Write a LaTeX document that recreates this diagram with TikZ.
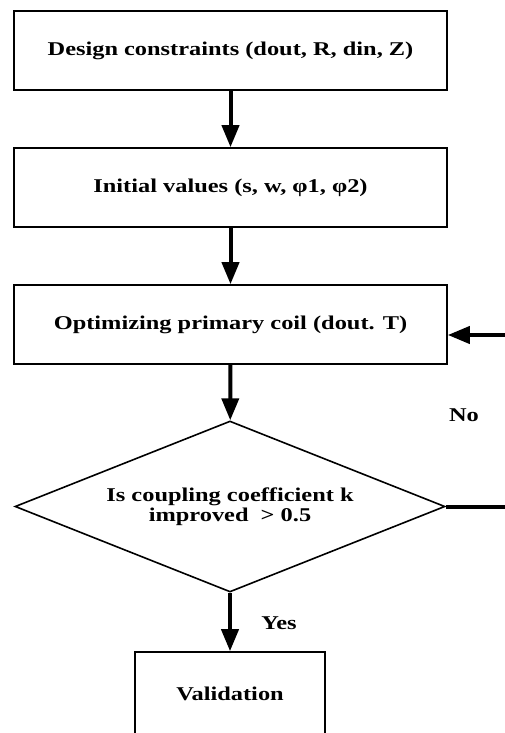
\documentclass[tikz,border=0pt]{standalone}
\usepackage{fontspec}
\setmainfont{Liberation Serif}[FakeStretch=1.25]
\usetikzlibrary{shapes.geometric, arrows.meta}
\tikzstyle{process} = [rectangle, minimum width=433pt, minimum height=79pt, text centered, draw=black, line width=1.6pt, font=\bfseries\fontsize{19.5}{20}\selectfont]
\tikzstyle{decision} = [diamond, aspect=2.5, minimum width=430pt, minimum height=171pt, inner sep=0pt, align=center, draw=black, line width=1.6pt, font=\bfseries\fontsize{19.5}{20}\selectfont]
\tikzstyle{label} = [font=\bfseries\fontsize{19.5}{20}\selectfont]
\tikzstyle{arrow} = [line width=4pt,-{Triangle[length=22pt,width=17pt]}]
\tikzstyle{line} = [line width=4pt]

\begin{document}
\begin{tikzpicture}[node distance=137pt]
						\useasboundingbox (0pt,0pt) rectangle (505pt,-733pt);
						\node (dc) [process] at (230.5pt,-50.5pt) {Design constraints (dout, R, din, Z)};
						\node (iv) [process, below of=dc] {Initial values (s, w, φ1, φ2)};
						\node (opt) [process, below of=iv] {Optimizing primary coil (dout. T)};
						\node (kc) [decision, node distance=182pt, below of=opt, xshift=-0.5pt] {Is coupling coefficient k\\improved~~> 0.5};
						\node (val) [process, minimum width=190pt, minimum height=84pt, node distance=187.5pt, below of=kc] {Validation};
						\coordinate (noout) at (505pt,-506.5pt);
						\coordinate (noin) at (505pt,-335pt);
						\node (no) [label] at (464pt,-415pt) {No};
						\node (yes) [label] at (279pt,-623pt) {Yes};
						\draw [arrow] (dc) -- (iv);
						\draw [arrow] (iv) -- (opt);
						\draw [arrow] (opt) -- (kc);
						\draw [arrow] (kc) -- (val);
						\draw [line] (kc.east) -- (noout);
						\draw [arrow] (noin) -- (opt.east |- noin);
					\end{tikzpicture}
\end{document}
